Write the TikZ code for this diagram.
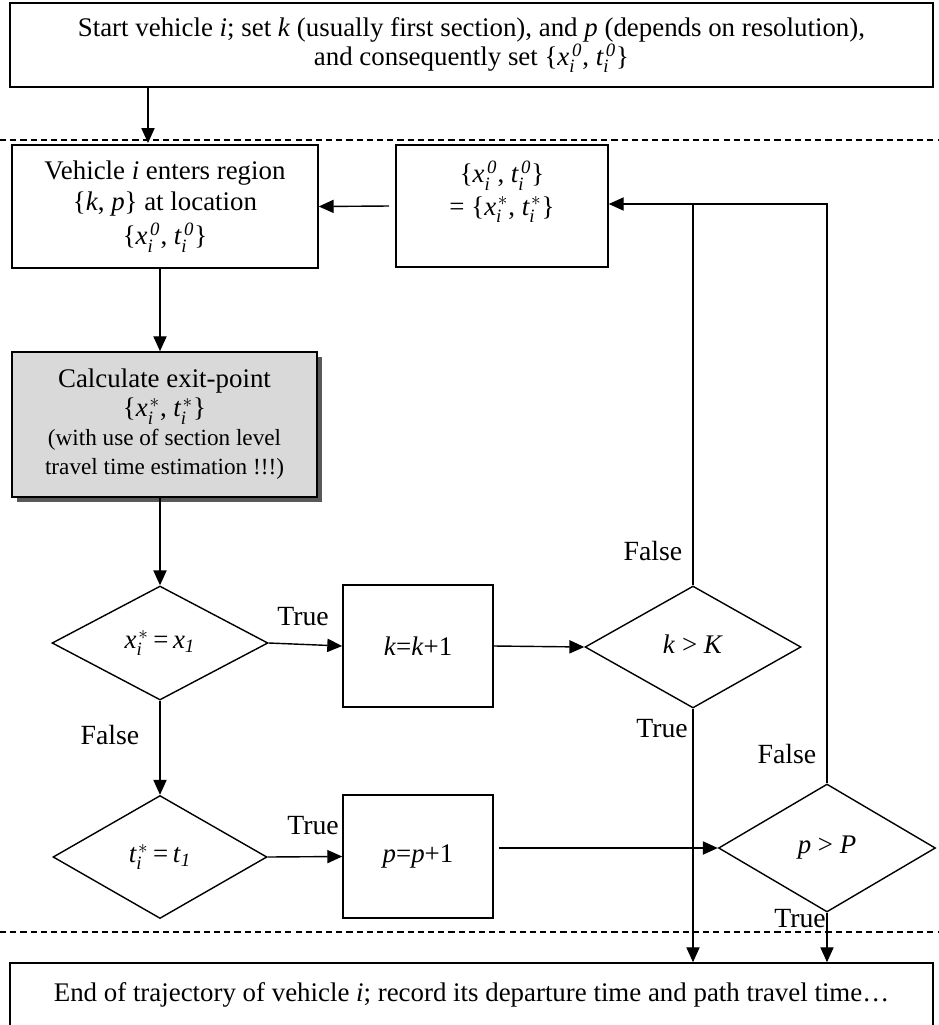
\documentclass[tikz,border=0pt]{standalone}
\usepackage{amsmath}
\usepackage{fontspec}
\setmainfont{Liberation Serif}
\usetikzlibrary{shapes.geometric,arrows.meta,shadows}
\newcommand\mi[1]{\textit{#1}}
\newcommand\vXz{\mi{x}_{\mi{i}}^{\kern1.5pt\mi{0}}}
\newcommand\vTz{\mi{t}_{\mi{i}}^{\kern1.5pt\mi{0}}}
\newcommand\vXs{\mi{x}_{\mi{i}}^{\kern1pt *}}
\newcommand\vTs{\mi{t}_{\mi{i}}^{\kern1pt *}}
\newcommand\smallfnt{\fontsize{13.2}{15}\selectfont}
\begin{document}
\begin{tikzpicture}[x=0.02cm,y=-0.02cm,
  font=\fontsize{15.3}{16.5}\selectfont,
  box/.style={draw,line width=0.9pt,align=center,inner sep=0pt},
  dia/.style={draw,diamond,line width=0.8pt,inner sep=0pt,align=center},
  arr/.style={line width=0.8pt,-{Triangle[length=8.5pt,width=7.5pt]}},
  ln/.style={line width=0.8pt},
  lab/.style={font=\fontsize{15.8}{17}\selectfont,inner sep=0pt},
  sep/.style={dash pattern=on 3.5pt off 2.3pt,line width=0.6pt}]
\useasboundingbox (0,0) rectangle (938,1025);

% separators
\coordinate (s1l) at (0,140); \coordinate (s1r) at (938,140);
\coordinate (s2l) at (0,932); \coordinate (s2r) at (938,932);
\draw[sep] (s1l) -- (s1r);
\draw[sep] (s2l) -- (s2r);

% nodes
\node[box,minimum width=18.46cm,minimum height=1.68cm] (start) at (471.5,45)
  {Start vehicle \mi{i}; set \mi{k} (usually first section), and \mi{p} (depends on resolution),\\
   and consequently set \{$\vXz$, $\vTz$\}};
\node[box,minimum width=6.12cm,minimum height=2.46cm] (enter) at (165,206.5)
  {Vehicle \mi{i} enters region\\[1pt] \{\mi{k}, \mi{p}\} at location\\[3pt] \{$\vXz$, $\vTz$\}};
\node[box,minimum width=4.24cm,minimum height=2.44cm] (assign) at (502,206)
  {\{$\vXz$, $\vTz$\}\\[2pt] = \{$\vXs$, $\vTs$\}\\[4pt] \mbox{}};
\node[box,minimum width=6.1cm,minimum height=2.9cm,fill=black!15,
  drop shadow={shadow xshift=0.1cm,shadow yshift=-0.1cm,fill=black!65,opacity=1}] (calc) at (164.5,424.5)
  {Calculate exit-point\\ \{$\vXs$, $\vTs$\}\\ {\smallfnt (with use of section level}\\ {\smallfnt travel time estimation !!!)}};
\node[dia,minimum width=4.32cm,minimum height=2.28cm] (d1) at (160,643) {$\vXs$\,=\,\mi{x}$_{\mi{1}}$};
\node[box,minimum width=3cm,minimum height=2.44cm] (kbox) at (418,646) {\mi{k}=\mi{k}+1};
\node[dia,minimum width=4.32cm,minimum height=2.44cm] (dk) at (693,647) {\raisebox{3pt}{\mi{k} > \mi{K}}};
\node[dia,minimum width=4.28cm,minimum height=2.46cm] (d2) at (160,857) {$\vTs$\,=\,\mi{t}$_{\mi{1}}$};
\node[box,minimum width=3cm,minimum height=2.46cm] (pbox) at (418,856.5) {\mi{p}=\mi{p}+1};
\node[dia,minimum width=4.34cm,minimum height=2.56cm] (dp) at (827,848) {\raisebox{3pt}{\mi{p} > \mi{P}}};
\node[box,minimum width=18.46cm,minimum height=1.28cm] (end) at (471.5,995)
  {End of trajectory of vehicle \mi{i}; record its departure time and path travel time…};

% labels
\node[lab] (t1) at (303,617) {True};
\node[lab] (f1) at (110,735) {False};
\node[lab] (t2) at (313,826) {True};
\node[lab] (fk) at (653,551) {False};
\node[lab] (tk) at (662,729) {True};
\node[lab] (fp) at (787,754) {False};
\node[lab] (tp) at (800,919) {True};

% connectors
\coordinate (c1) at (148,143);
\coordinate (fb) at (827,204);
\draw[arr] (start.south -| c1) -- (c1);
\draw[arr] ([xshift=-0.12cm]assign.west) -- (enter.east);
\draw[arr] (enter.south -| d1.north) -- (calc.north -| d1.north);
\draw[arr] (calc.south -| d1.north) -- (d1.north);
\draw[arr] (d1.east) -- (kbox.west);
\draw[arr] (kbox.east) -- (dk.west);
\draw[arr] (d1.south) -- (d2.north);
\draw[arr] (d2.east) -- (pbox.west);
\draw[arr] ([xshift=0.1cm]pbox.east |- dp.west) -- (dp.west);
\draw[arr] (dp.north) -- (fb) -- (assign.east |- fb);
\draw[ln] (dk.north) -- (dk.north |- fb);
\draw[arr] (dk.south) -- (dk.south |- end.north);
\draw[arr] (dp.south) -- (dp.south |- end.north);
\end{tikzpicture}
\end{document}
